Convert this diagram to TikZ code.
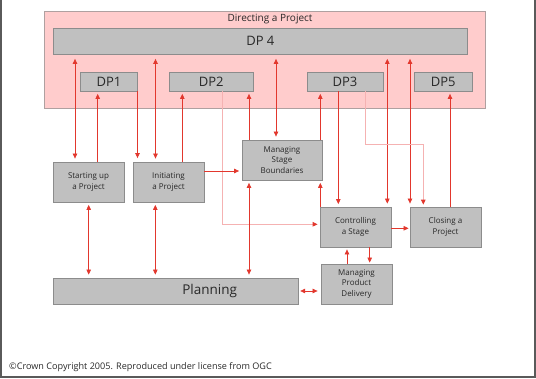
\documentclass[tikz,border=0pt]{standalone}
\usepackage{fontspec}
\setmainfont{Open Sans}
\usetikzlibrary{arrows.meta}
\definecolor{pinkfill}{RGB}{255,204,204}
\definecolor{pinkline}{RGB}{175,160,160}
\definecolor{boxfill}{RGB}{192,192,192}
\definecolor{boxline}{RGB}{140,140,140}
\definecolor{lnk}{RGB}{226,55,45}
\definecolor{lite}{RGB}{245,178,178}
\definecolor{framec}{RGB}{90,90,90}
\definecolor{txt}{RGB}{40,40,40}
\begin{document}
\begin{tikzpicture}[x=1pt,y=-1pt,
  box/.style={draw=boxline,fill=boxfill,line width=0.8pt,inner sep=0pt,align=center,text=txt,
    font=\fontsize{8}{10.5}\selectfont},
  dpbox/.style={box,minimum height=19pt,font=\fontsize{13}{14}\selectfont},
  link/.style={draw=lnk,line width=0.7pt},
  litelink/.style={draw=lite,line width=0.9pt},
  arrA/.style={-{Triangle[length=5pt,width=4.5pt,color=lnk]},shorten >=#1},
  arrA/.default=3pt,
  arrB/.style={{Triangle[length=5pt,width=4.5pt,color=lnk]}-{Triangle[length=5pt,width=4.5pt,color=lnk]},shorten <=#1,shorten >=3pt},
  arrB/.default=3pt]
\useasboundingbox (0,0) rectangle (536,379);
% frame
\draw[framec,line width=1.2pt] (1,0) -- (1,377) -- (535,377) -- (535,0);
% directing a project
\node[draw=pinkline,fill=pinkfill,line width=0.8pt,minimum width=441.4pt,minimum height=97pt,inner sep=0pt] (DaP) at (265.1,59.5) {};
\node[font=\fontsize{10}{11}\selectfont,text=txt] (title) at (270,19) {Directing a Project};
\node[dpbox,minimum width=414.7pt,minimum height=26pt] (DP4) at (260.35,41) {DP 4};
\node[dpbox,minimum width=57.8pt] (DP1) at (108.9,81.5) {DP1};
\node[dpbox,minimum width=84.8pt] (DP2) at (211.3,81.5) {DP2};
\node[dpbox,minimum width=76pt] (DP3) at (345,81.5) {DP3};
\node[dpbox,minimum width=57.7pt] (DP5) at (443.25,81.5) {DP5};
% process boxes
\node[box,minimum width=71pt,minimum height=40pt] (SU) at (88.5,182) {Starting up\\a Project};
\node[box,minimum width=71pt,minimum height=40pt] (IP) at (168.5,182) {Initiating\\a Project};
\node[box,minimum width=80pt,minimum height=40pt] (MSB) at (282,160) {Managing\\Stage\\Boundaries};
\node[box,minimum width=71pt,minimum height=40pt] (CS) at (355.5,227) {Controlling\\a Stage};
\node[box,minimum width=71pt,minimum height=40pt] (CP) at (445.5,227) {Closing a\\Project};
\node[box,minimum width=71pt,minimum height=40pt] (MPD) at (356.5,284) {Managing\\Product\\Delivery};
\node[box,minimum width=245.8pt,minimum height=26pt,
  label={[font=\fontsize{13.5}{15}\selectfont,text=txt,xshift=33.8pt]center:Planning}] (PL) at (175.9,291) {};
% copyright
\node[anchor=west,inner sep=0pt,text=txt,font=\fontsize{9.1}{10}\selectfont] (copy) at (9,367) {©Crown Copyright 2005. Reproduced under license from OGC};
% connectors to/from DP4
\draw[link,arrB=4.5pt] (DP4.south -| 75,0) -- (SU.north -| 75,0);
\draw[link,arrB=4.5pt] (DP4.south -| 155.5,0) -- (IP.north -| 155.5,0);
\draw[link,arrB=4.5pt] (DP4.south -| 276,0) -- (MSB.north -| 276,0);
\draw[link,arrB=4.5pt] (DP4.south -| 387.3,0) -- (CS.north -| 387.3,0);
\draw[link,arrB=4.5pt] (DP4.south -| 410,0) -- (CP.north -| 410,0);
% to/from DP1..DP5
\draw[link,arrA=2.5pt] (SU.north -| 97.7,0) -- (DP1.south -| 97.7,0);
\draw[link,arrA=3.5pt] (DP1.south -| 137.5,0) -- (IP.north -| 137.5,0);
\draw[link,arrA=2.5pt] (IP.north -| 182.3,0) -- (DP2.south -| 182.3,0);
\draw[link,arrA=2.5pt] (MSB.north -| 249,0) -- (DP2.south -| 249,0);
\draw[link,arrA=2.5pt] (MSB.north -| 320.3,0) -- (DP3.south -| 320.3,0);
\draw[link,arrA=2.5pt] (DP3.south -| 338.3,0) -- (CS.north -| 338.3,0);
\draw[link,arrA=2.5pt] (CP.north -| 450,0) -- (DP5.south -| 450,0);
\draw[litelink,arrA=2pt] (DP2.south -| 222.5,0) |- (CS.west |- 0,224.3);
\draw[litelink,arrA=2pt] (DP3.south -| 365,0) -- (365,144.3) -- (423.3,144.3) -- (CP.north -| 423.3,0);
% lower connectors
\draw[link,arrA=2.5pt] (IP.east |- 0,171) -- (MSB.west |- 0,171);
\draw[link,arrA=2.5pt] (CS.north -| 320.3,0) -- (MSB.south -| 320.3,0);
\draw[link,arrA=1pt] (CS.east |- 0,228.3) -- (CP.west |- 0,228.3);
\draw[link,arrB=2.5pt] (SU.south -| 88.7,0) -- (PL.north -| 88.7,0);
\draw[link,arrB=2.5pt] (IP.south -| 155.3,0) -- (PL.north -| 155.3,0);
\draw[link,arrB=2.5pt] (MSB.south -| 249,0) -- (PL.north -| 249,0);
\draw[link,arrB=1pt] (PL.east |- 0,291) -- (MPD.west |- 0,291);
\draw[link,arrA=2pt] (MPD.north -| 347,0) -- (CS.south -| 347,0);
\draw[link,arrA=1pt] (CS.south -| 369.7,0) -- (MPD.north -| 369.7,0);
\end{tikzpicture}
\end{document}
